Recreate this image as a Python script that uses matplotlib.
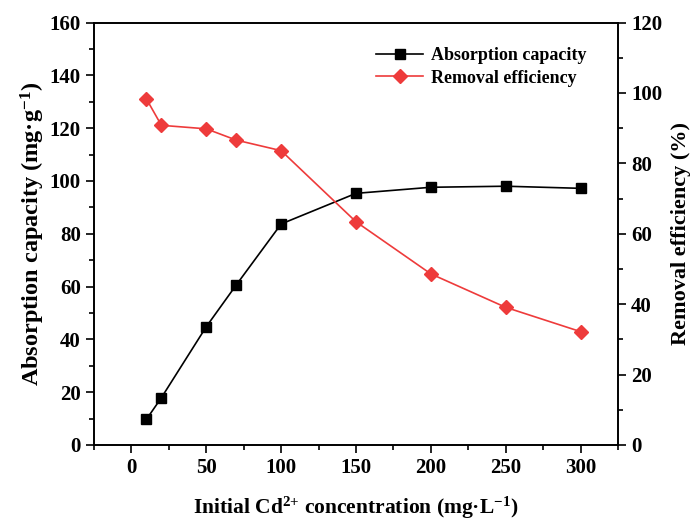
import numpy as np
import matplotlib
matplotlib.use("Agg")
import matplotlib.pyplot as plt
from matplotlib.ticker import MultipleLocator

plt.rcParams['font.family'] = ['Liberation Serif', 'DejaVu Serif']
plt.rcParams['font.weight'] = 'bold'
plt.rcParams['mathtext.fontset'] = 'custom'
plt.rcParams['mathtext.rm'] = 'Liberation Serif:bold'
plt.rcParams['mathtext.it'] = 'Liberation Serif:bold'
plt.rcParams['mathtext.bf'] = 'Liberation Serif:bold'

concentration = [10, 20, 50, 70, 100, 150, 200, 250, 300]
capacity = [9.7, 17.9, 44.8, 60.6, 83.7, 95.3, 97.6, 98.0, 97.2]
efficiency = [98.3, 90.8, 89.8, 86.6, 83.6, 63.4, 48.6, 39.1, 32.2]

red = '#EE3B3B'

fig = plt.figure(figsize=(6.93, 5.22), dpi=100)
ax = fig.add_axes([94 / 693, 1 - 445 / 522, 524 / 693, 422.5 / 522])
ax2 = ax.twinx()

l1, = ax.plot(concentration, capacity, '-s', color='black', lw=1.2,
              markersize=7, label='Absorption capacity')
l2, = ax2.plot(concentration, efficiency, '-D', color=red, lw=1.2,
               markersize=7, label='Removal efficiency')

ax.set_xlim(-25, 325)
ax.set_ylim(0, 160)
ax2.set_ylim(0, 120)

ax.xaxis.set_major_locator(MultipleLocator(50))
ax.xaxis.set_minor_locator(MultipleLocator(25))
ax.yaxis.set_major_locator(MultipleLocator(20))
ax.yaxis.set_minor_locator(MultipleLocator(10))
ax2.yaxis.set_major_locator(MultipleLocator(20))
ax2.yaxis.set_minor_locator(MultipleLocator(10))

for a in (ax, ax2):
    a.tick_params(which='major', direction='out', length=6, width=1.2,
                  labelsize=15)
    a.tick_params(which='minor', direction='out', length=3.5, width=1.2)
    for s in a.spines.values():
        s.set_linewidth(1.2)

ax.set_xlabel('Initial Cd$^{2{+}}$ concentration (mg·L$^{-1}$)',
              fontsize=15.5, fontweight='bold', labelpad=12)
ax.set_ylabel('Absorption capacity (mg·g$^{-1}$)', fontsize=17.5,
              fontweight='bold', labelpad=2)
ax2.set_ylabel('Removal efficiency (%)', fontsize=16, fontweight='bold',
               labelpad=6)

ax.legend(handles=[l1, l2], loc='upper right', bbox_to_anchor=(0.97, 0.98),
          frameon=False, fontsize=13, handlelength=2.6, labelspacing=0.3,
          handletextpad=0.4)

fig.savefig('out.png', dpi=100)
